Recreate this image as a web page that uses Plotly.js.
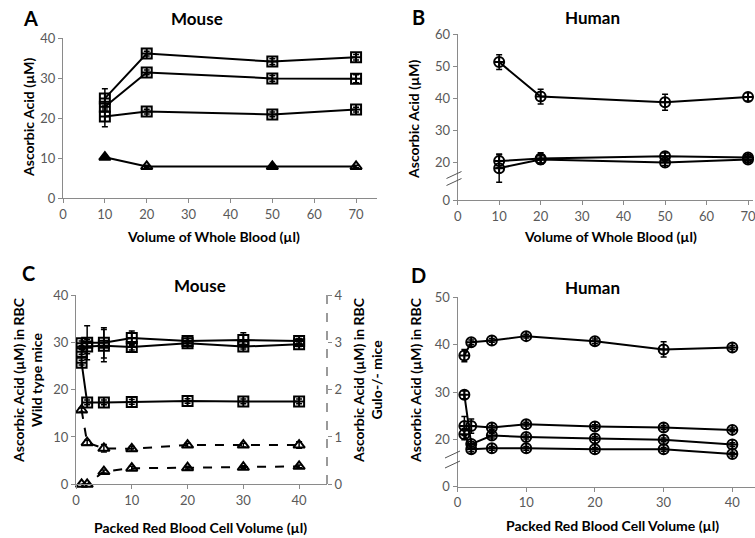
<!DOCTYPE html>
<html>
<head>
<meta charset="utf-8">
<script src="https://cdn.plot.ly/plotly-3.0.1.min.js"></script>
<style>html,body{margin:0;padding:0;background:#fff;}#chart{width:755px;height:538px;}</style>
</head>
<body>
<div id="chart"></div>
<script>
// ---------- DATA ----------
// Panel A: Mouse, whole blood
var aX = [10, 20, 50, 70];
var aS1 = [24.9, 36.1, 34.1, 35.2];
var aS1Err = [2.4, 0.6, 0.7, 0.7];
var aS2 = [22.8, 31.4, 29.9, 29.8];
var aS2Err = [0.8, 0.6, 0.7, 1.0];
var aS3 = [20.4, 21.6, 20.9, 22.1];
var aS3Err = [2.6, 0.6, 0.6, 0.6];
var aS4 = [10.2, 7.9, 7.9, 7.9];
var aS4Err = [0.4, 0.3, 0.3, 0.3];

// Panel B: Human, whole blood (broken axis: tick "0" drawn at value bBreakVal)
var bX = [10, 20, 50, 70];
var bS1 = [51.3, 40.5, 38.7, 40.4];
var bS1Err = [2.3, 2.3, 2.5, 1.3];
var bS2 = [20.3, 21.1, 21.8, 21.4];
var bS2Err = [2.0, 1.8, 1.0, 1.0];
var bS3 = [18.1, 20.8, 19.9, 20.8];
var bS3Err = [4.4, 1.2, 1.0, 1.0];
var bBreakVal = 8.125;
var bTickVals = [bBreakVal, 20, 30, 40, 50, 60];
var bTickText = ["0", "20", "30", "40", "50", "60"];

// Panel C: Mouse, packed RBC (squares: wild type, left axis; triangles: Gulo-/-, right axis)
var cX = [1, 2, 5, 10, 20, 30, 40];
var cS1 = [29.8, 29.9, 29.9, 30.9, 30.3, 30.5, 30.3];
var cS1Err = [0.5, 3.6, 3.2, 1.5, 0.5, 1.5, 0.5];
var cS2 = [28.0, 29.1, 29.3, 29.0, 29.8, 29.1, 29.6];
var cS2Err = [0.5, 1.5, 3.4, 0.6, 0.5, 0.5, 0.5];
var cS3 = [25.7, 17.3, 17.3, 17.4, 17.6, 17.5, 17.5];
var cS3Err = [0.5, 0.5, 0.5, 0.5, 0.5, 0.5, 0.5];
var cT1 = [1.57, 0.88, 0.76, 0.75, 0.83, 0.83, 0.83];
var cT1Err = [0.04, 0.05, 0.08, 0.05, 0.04, 0.04, 0.07];
var cT2 = [0, 0, 0.27, 0.34, 0.35, 0.36, 0.38];
var cT2Err = [0, 0, 0.03, 0.04, 0.03, 0.03, 0.03];

// Panel D: Human, packed RBC (broken axis: tick "0" drawn at value dBreakVal)
var dX = [1, 2, 5, 10, 20, 30, 40];
var dS1 = [37.7, 40.5, 40.9, 41.8, 40.7, 39.0, 39.4];
var dS1Err = [1.3, 0.5, 0.4, 0.4, 0.5, 1.6, 0.4];
var dS2 = [29.4, 19.0, 20.8, 20.5, 20.2, 19.9, 18.9];
var dS2Err = [0.8, 0.5, 0.5, 0.4, 0.4, 0.4, 0.4];
var dS3 = [22.8, 22.8, 22.5, 23.2, 22.7, 22.5, 22.0];
var dS3Err = [2.0, 1.5, 0.4, 0.4, 0.4, 0.4, 0.4];
var dS4 = [21.1, 17.9, 18.1, 18.1, 17.9, 17.9, 16.9];
var dS4Err = [1.2, 0.5, 0.4, 0.4, 0.4, 0.4, 0.4];
var dBreakVal = 10;
var dTickVals = [dBreakVal, 20, 30, 40, 50];
var dTickText = ["0", "20", "30", "40", "50"];

// ---------- LAYOUT HELPERS ----------
var W = 755, H = 538;
function fx(p) { return p / W; }
function fy(p) { return 1 - p / H; }

var FONT = "Lato, 'Open Sans', sans-serif";
var AXC = "#8a8a8a";
var TICKC = "#595959";
var TICKSIZE = 13;
var TITLESIZE = 14;

function errBars(arr) {
  return {type: "data", array: arr, visible: true, color: "#000", thickness: 1.5, width: 3};
}
function tr(x, y, err, xa, ya, symbol, dash) {
  return {
    x: x, y: y, xaxis: xa, yaxis: ya, type: "scatter", mode: "lines+markers",
    line: {color: "#000", width: 2, dash: dash || "solid"},
    marker: {symbol: symbol, size: 10, color: "#000", line: {color: "#000", width: 2}},
    error_y: errBars(err), showlegend: false, hoverinfo: "x+y", cliponaxis: false
  };
}

var data = [
  tr(aX, aS1, aS1Err, "x", "y", "square-cross-open"),
  tr(aX, aS2, aS2Err, "x", "y", "square-cross-open"),
  tr(aX, aS3, aS3Err, "x", "y", "square-cross-open"),
  tr(aX, aS4, aS4Err, "x", "y", ["triangle-up", "triangle-up-open", "triangle-up", "triangle-up-open"]),

  tr(bX, bS1, bS1Err, "x2", "y2", "circle-cross-open"),
  tr(bX, bS2, bS2Err, "x2", "y2", "circle-cross-open"),
  tr(bX, bS3, bS3Err, "x2", "y2", "circle-cross-open"),

  tr(cX, cS1, cS1Err, "x3", "y3", "square-cross-open"),
  tr(cX, cS2, cS2Err, "x3", "y3", "square-cross-open"),
  tr(cX, cS3, cS3Err, "x3", "y3", "square-cross-open"),
  tr(cX, cT1, cT1Err, "x3", "y5", "triangle-up-open", "dash"),
  tr(cX, cT2, cT2Err, "x3", "y5", "triangle-up-open", "dash"),

  tr(dX, dS1, dS1Err, "x4", "y4", "circle-cross-open"),
  tr(dX, dS2, dS2Err, "x4", "y4", "circle-cross-open"),
  tr(dX, dS3, dS3Err, "x4", "y4", "circle-cross-open"),
  tr(dX, dS4, dS4Err, "x4", "y4", "circle-cross-open")
];

function xax(d0, d1, range, anchor, dtick) {
  return {
    domain: [fx(d0), fx(d1)], range: range, anchor: anchor,
    showline: true, linecolor: AXC, linewidth: 1, ticks: "outside", ticklen: 4, tickcolor: AXC,
    showgrid: false, zeroline: false, tick0: 0, dtick: dtick, ticklabeloverflow: "allow",
    tickfont: {family: FONT, size: TICKSIZE, color: TICKC}, fixedrange: true
  };
}
function yax(top, bottom, range, anchor, extra) {
  var o = {
    domain: [fy(bottom), fy(top)], range: range, anchor: anchor,
    showline: true, linecolor: AXC, linewidth: 1, ticks: "outside", ticklen: 4, tickcolor: AXC,
    showgrid: false, zeroline: false, ticklabeloverflow: "allow",
    tickfont: {family: FONT, size: TICKSIZE, color: TICKC}, fixedrange: true
  };
  for (var k in extra) o[k] = extra[k];
  return o;
}

function ann(text, px, py, size, bold, angle, color) {
  return {
    text: bold ? "<b>" + text + "</b>" : text, xref: "paper", yref: "paper",
    x: fx(px), y: fy(py), xanchor: "center", yanchor: "middle", showarrow: false,
    textangle: angle || 0, font: {family: FONT, size: size, color: color || "#000"}
  };
}
function seg(x0, y0, x1, y1, dash, color, width) {
  return {type: "line", xref: "paper", yref: "paper",
    x0: fx(x0), y0: fy(y0), x1: fx(x1), y1: fy(y1),
    line: {color: color || AXC, width: width || 1, dash: dash || "solid"}};
}

var layout = {
  width: W, height: H, autosize: false,
  margin: {l: 0, r: 0, t: 0, b: 0, pad: 0},
  paper_bgcolor: "#fff", plot_bgcolor: "rgba(0,0,0,0)",
  showlegend: false,
  xaxis: xax(63, 377, [0, 75], "y", 10),
  yaxis: yax(38, 198, [0, 40], "x", {dtick: 10, tick0: 0}),
  xaxis2: xax(457.7, 753, [0, 71.2], "y2", 10),
  yaxis2: yax(34.3, 200, [bBreakVal, 60], "x2", {tickmode: "array", tickvals: bTickVals, ticktext: bTickText}),
  xaxis3: xax(76, 327, [0, 45], "y3", 10),
  yaxis3: yax(295, 484.3, [0, 40], "x3", {dtick: 10, tick0: 0}),
  yaxis5: yax(295, 484.3, [0, 4], "x3", {dtick: 1, tick0: 0, overlaying: "y3", side: "right", showline: false}),
  xaxis4: xax(457.5, 755, [0, 43.3], "y4", 10),
  yaxis4: yax(297.3, 486.7, [dBreakVal, 50], "x4", {tickmode: "array", tickvals: dTickVals, ticktext: dTickText}),
  annotations: [
    ann("A", 30, 18, 20, true),
    ann("Mouse", 197, 18, 17, true),
    ann("Ascorbic Acid (µM)", 28, 118, TITLESIZE, true, -90),
    ann("Volume of Whole Blood (µl)", 213, 236, TITLESIZE, true),

    ann("B", 418, 17, 20, true),
    ann("Human", 592, 17, 17, true),
    ann("Ascorbic Acid (µM)", 413, 120, TITLESIZE, true, -90),
    ann("Volume of Whole Blood (µl)", 610, 236, TITLESIZE, true),

    ann("C", 28, 273, 20, true),
    ann("Mouse", 200, 285, 17, true),
    ann("Ascorbic Acid (µM) in RBC<br>Wild type mice", 27, 380, TITLESIZE, true, -90),
    ann("Ascorbic Acid (µM) in RBC<br>Gulo-/- mice", 367, 380, TITLESIZE, true, -90),
    ann("Packed Red Blood Cell Volume (µl)", 200, 527, TITLESIZE, true),

    ann("D", 418, 275, 20, true),
    ann("Human", 592, 287, 17, true),
    ann("Ascorbic Acid (µM) in RBC", 415, 380, TITLESIZE, true, -90),
    ann("Packed Red Blood Cell Volume (µl)", 612, 525, TITLESIZE, true)
  ],
  shapes: [
    // right dashed axis of panel C
    seg(327, 295, 327, 484.3, "dash", "#7a7a7a", 1.5),
    // axis break marks, panel B
    seg(446.5, 178.5, 461.5, 171.5, "solid", "#555", 1),
    seg(446.5, 185.5, 461.5, 178.5, "solid", "#555", 1),
    // axis break marks, panel D
    seg(445, 458, 460, 451, "solid", "#555", 1),
    seg(445, 468, 460, 461, "solid", "#555", 1)
  ]
};

Plotly.newPlot("chart", data, layout, {staticPlot: true, displayModeBar: false});
</script>
</body>
</html>
